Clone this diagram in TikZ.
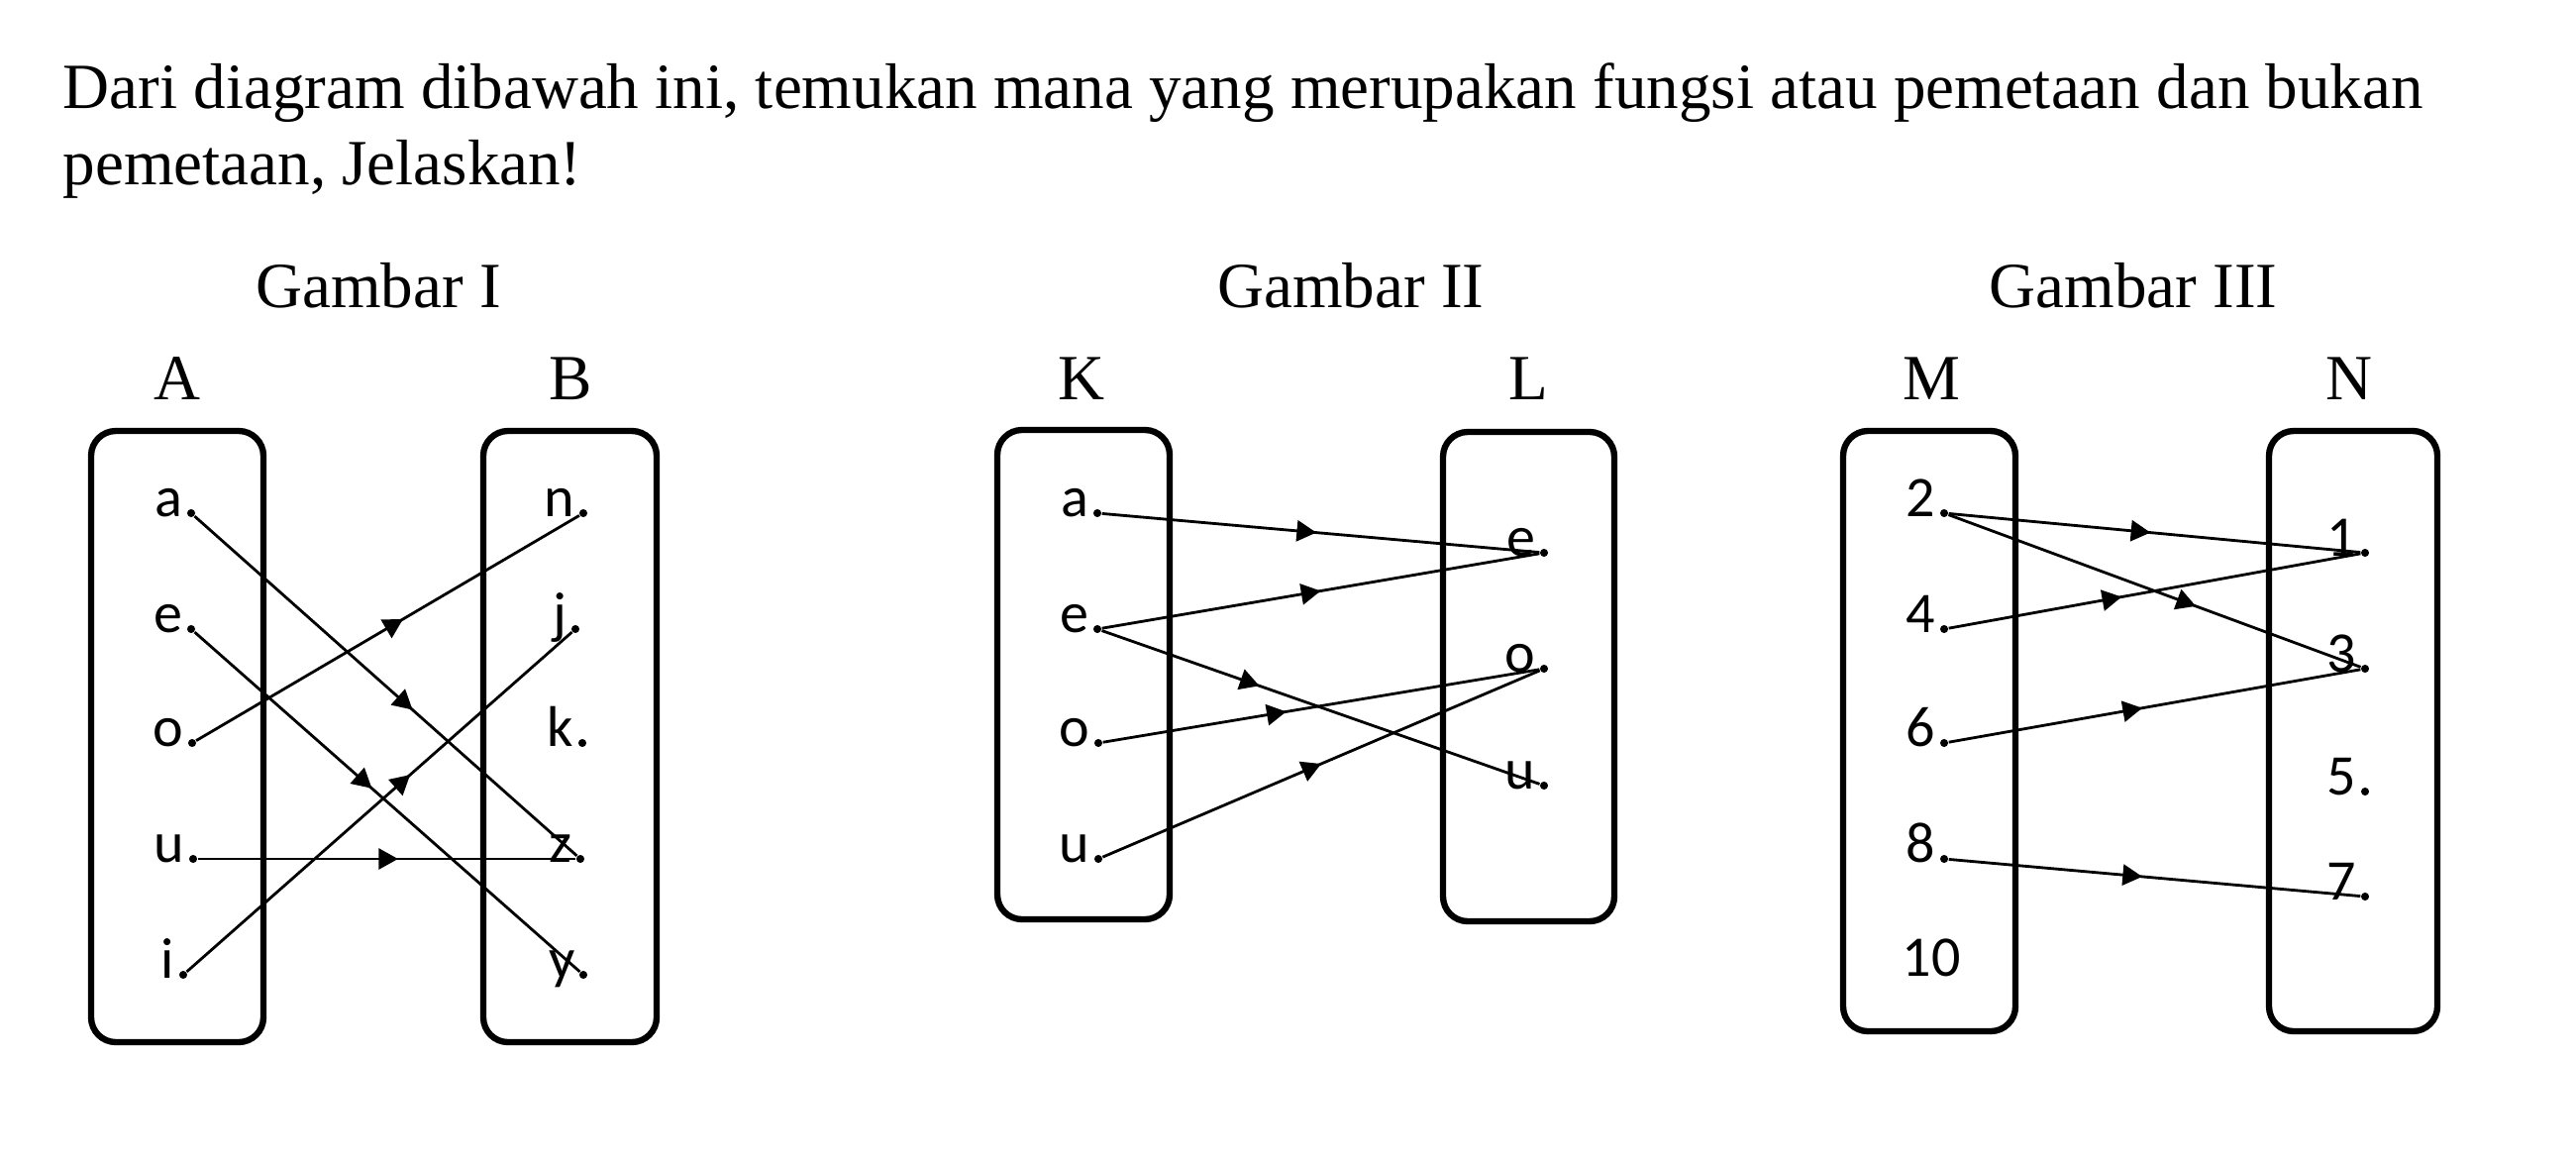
\documentclass[tikz,border=0pt]{standalone}
\usepackage{fontspec}
\setmainfont{Liberation Serif}
\newfontfamily\itemfont{Carlito}
\usetikzlibrary{arrows.meta,decorations.markings}

\tikzset{
  dot/.style={circle, fill=black, inner sep=0pt, minimum size=2.3pt},
  item/.style={anchor=base east, inner sep=0pt, font=\itemfont\fontsize{16.5}{19}\selectfont},
  head/.style={anchor=base, inner sep=0pt, font=\fontsize{18.5}{22}\selectfont},
  setbox/.style={line width=1.8pt, rounded corners=0.25cm},
  map/.style={line width=0.8pt, postaction={decorate},
    decoration={markings, mark=at position #1 with {\arrow{Triangle[length=5.6pt,width=6pt]}}}},
}

\begin{document}
\begin{tikzpicture}[x=0.01cm, y=-0.01cm]
\useasboundingbox (0,0) rectangle (2601,1176);

\def\ya{518}
\def\yb{635}
\def\yc{750}
\def\yd{867}
\def\ye{984}

\def\yf{558}
\def\yg{675}
\def\yh{799}
\def\yi{905}

% question
\node(q1) [anchor=base west, inner sep=0pt, font=\fontsize{18.5}{22}\selectfont] at (63, 110)
  {Dari diagram dibawah ini, temukan mana yang merupakan fungsi atau pemetaan dan bukan};
\node(q2) [anchor=base west, inner sep=0pt, font=\fontsize{18.5}{22}\selectfont] at (63, 186)
  {pemetaan, Jelaskan!};

\node(g1) [head] at (382, 310) {Gambar I};
\node(g2) [head] at (1364, 310) {Gambar II};
\node(g3) [head] at (2154, 310) {Gambar III};

\node(hA) [head] at (179, 403) {A};
\node(hB) [head] at (576, 403) {B};
\node(hK) [head] at (1092, 403) {K};
\node(hL) [head] at (1543, 403) {L};
\node(hM) [head] at (1950, 403) {M};
\node(hN) [head] at (2372, 403) {N};

\draw[setbox] (92, 435) rectangle (266, 1052);
\draw[setbox] (488, 435) rectangle (663, 1052);
\draw[setbox] (1007, 434) rectangle (1181, 928);
\draw[setbox] (1457, 436) rectangle (1630, 930);
\draw[setbox] (1861, 435) rectangle (2035, 1041);
\draw[setbox] (2291, 435) rectangle (2461, 1041);

% Gambar I
\node(Aa) [dot] at (193, \ya) {};
\node(Ae) [dot] at (193, \yb) {};
\node(Ao) [dot] at (194, \yc) {};
\node(Au) [dot] at (195, \yd) {};
\node(Ai) [dot] at (185, \ye) {};
\node(Bn) [dot] at (589, \ya) {};
\node(Bj) [dot] at (581, \yb) {};
\node(Bk) [dot] at (588, \yc) {};
\node(Bz) [dot] at (586, \yd) {};
\node(By) [dot] at (589, \ye) {};

\node(tAa) [item] at (185, \ya + 3) {a};
\node(tAe) [item] at (185, \yb + 3) {e};
\node(tAo) [item] at (186, \yc + 3) {o};
\node(tAu) [item] at (187, \yd + 3) {u};
\node(tAi) [item] at (177, \ye + 3) {i};
\node(tBn) [item] at (581, \ya + 3) {n};
\node(tBj) [item] at (573, \yb + 3) {j};
\node(tBk) [item] at (580, \yc + 3) {k};
\node(tBz) [item] at (578, \yd + 3) {z};
\node(tBy) [item] at (581, \ye + 3) {y};

\draw[map=0.57] (Aa) -- (Bz);
\draw[map=0.46] (Ae) -- (By);
\draw[map=0.54] (Ao) -- (Bn);
\draw[map=0.53] (Au) -- (Bz);
\draw[map=0.58] (Ai) -- (Bj);

% Gambar II
\node(Ka) [dot] at (1108, \ya) {};
\node(Ke) [dot] at (1108, \yb) {};
\node(Ko) [dot] at (1109, \yc) {};
\node(Ku) [dot] at (1109, \yd) {};
\node(Le) [dot] at (1559, \yf) {};
\node(Lo) [dot] at (1559, \yg) {};
\node(Lu) [dot] at (1559, 793) {};

\node(tKa) [item] at (1100, \ya + 3) {a};
\node(tKe) [item] at (1100, \yb + 3) {e};
\node(tKo) [item] at (1101, \yc + 3) {o};
\node(tKu) [item] at (1101, \yd + 3) {u};
\node(tLe) [item] at (1551, \yf + 3) {e};
\node(tLo) [item] at (1551, \yg + 3) {o};
\node(tLu) [item] at (1551, 796) {u};

\draw[map=0.49] (Ka) -- (Le);
\draw[map=0.50] (Ke) -- (Le);
\draw[map=0.36] (Ke) -- (Lu);
\draw[map=0.42] (Ko) -- (Lo);
\draw[map=0.50] (Ku) -- (Lo);

% Gambar III
\node(M2) [dot] at (1963, \ya) {};
\node(M4) [dot] at (1963, \yb) {};
\node(M6) [dot] at (1963, \yc) {};
\node(M8) [dot] at (1963, \yd) {};
\node(N1) [dot] at (2388, \yf) {};
\node(N3) [dot] at (2388, \yg) {};
\node(N5) [dot] at (2388, \yh) {};
\node(N7) [dot] at (2388, \yi) {};

\node(tM2) [item] at (1955, \ya + 3) {2};
\node(tM4) [item] at (1955, \yb + 3) {4};
\node(tM6) [item] at (1955, \yc + 3) {6};
\node(tM8) [item] at (1955, \yd + 3) {8};
\node(tM10) [item, anchor=base] at (1950, \ye + 1) {10};
\node(tN1) [item] at (2380, \yf + 3) {1};
\node(tN3) [item] at (2380, \yg + 3) {3};
\node(tN5) [item] at (2380, \yh + 3) {5};
\node(tN7) [item] at (2380, \yi + 3) {7};

\draw[map=0.49] (M2) -- (N1);
\draw[map=0.60] (M2) -- (N3);
\draw[map=0.42] (M4) -- (N1);
\draw[map=0.47] (M6) -- (N3);
\draw[map=0.47] (M8) -- (N7);

\end{tikzpicture}
\end{document}
